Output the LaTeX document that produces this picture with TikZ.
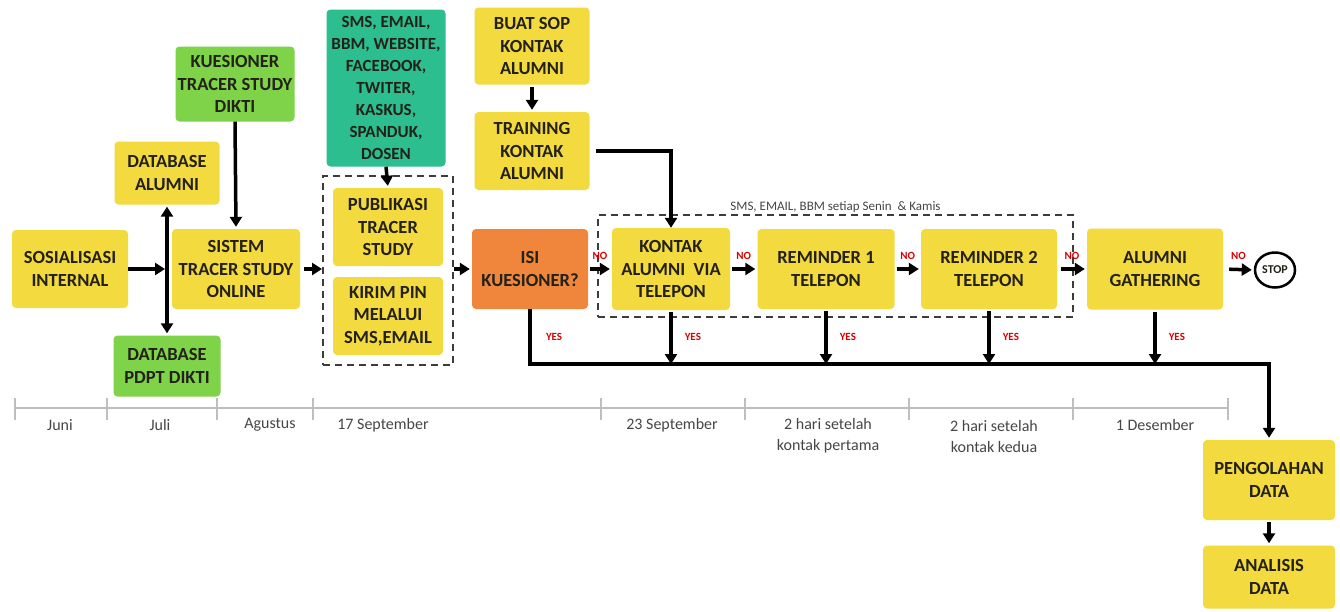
\documentclass[tikz,border=0pt]{standalone}
\usepackage{fontspec}
\setmainfont{Carlito}
\usetikzlibrary{arrows.meta,positioning,shapes.geometric}
\definecolor{boxyellow}{RGB}{243,218,62}
\definecolor{boxgreen}{RGB}{126,211,72}
\definecolor{boxteal}{RGB}{44,190,142}
\definecolor{boxorange}{RGB}{240,134,60}
\definecolor{boxtext}{RGB}{35,33,25}
\definecolor{linegray}{RGB}{190,190,190}
\definecolor{labelgray}{RGB}{70,70,70}
\definecolor{dashgray}{RGB}{60,60,60}
\begin{document}
\begin{tikzpicture}[x=1pt, y=-1pt,
    box/.style={rectangle, rounded corners=4pt, fill=boxyellow, text=boxtext, align=center, inner sep=2pt,
        font=\bfseries\fontsize{18.5}{22.5}\selectfont},
    group/.style={rectangle, draw=dashgray, line width=2pt, dash pattern=on 7pt off 5pt, inner sep=0pt},
    arr/.style={draw=black, line width=3.5pt, -{Triangle[width=12pt,length=10pt]}},
    no/.style={font=\bfseries\fontsize{11}{11}\selectfont, text=red!85!black, inner sep=0pt},
    when/.style={font=\fontsize{16}{21}\selectfont, text=labelgray, align=center, inner sep=0pt}]
    \useasboundingbox (0,0) rectangle (1340,611);
    \fill[white] (0,0) rectangle (1340,611);
    % left part
    \node[box, minimum width=116pt, minimum height=78pt] (sos) at (70,269) {SOSIALISASI\\INTERNAL};
    \node[box, minimum width=105pt, minimum height=63pt] (dbal) at (167,173) {DATABASE\\ALUMNI};
    \node[box, fill=boxgreen, minimum width=119pt, minimum height=75pt] (kues) at (235,84) {KUESIONER\\TRACER STUDY\\DIKTI};
    \node[box, minimum width=128pt, minimum height=80pt] (sis) at (236,269) {SISTEM\\TRACER STUDY\\ONLINE};
    \node[box, fill=boxgreen, minimum width=107pt, minimum height=61pt] (dbpd) at (167,366) {DATABASE\\PDPT DIKTI};
    \node[box, fill=boxteal, minimum width=119pt, minimum height=157pt, font=\bfseries\fontsize{17}{22}\selectfont] (media) at (386,88)
        {SMS, EMAIL,\\BBM, WEBSITE,\\FACEBOOK,\\TWITER,\\KASKUS,\\SPANDUK,\\DOSEN};
    \node[group, minimum width=130pt, minimum height=189pt] (grp1) at (388,270.5) {};
    \node[box, minimum width=110pt, minimum height=78pt] (pub) at (388,227) {PUBLIKASI\\TRACER\\STUDY};
    \node[box, minimum width=110pt, minimum height=78pt] (pin) at (388,316) {KIRIM PIN\\MELALUI\\SMS,EMAIL};
    % contact part
    \node[box, minimum width=115pt, minimum height=77pt] (sop) at (532,46) {BUAT SOP\\KONTAK\\ALUMNI};
    \node[box, minimum width=115pt, minimum height=78pt] (train) at (532,151) {TRAINING\\KONTAK\\ALUMNI};
    \node[box, fill=boxorange, minimum width=116pt, minimum height=80pt] (isi) at (530,269) {ISI\\KUESIONER?};
    \node[group, minimum width=475pt, minimum height=102pt] (grp2) at (835.5,266) {};
    \node[font=\fontsize{13}{13}\selectfont, text=labelgray, inner sep=1pt, above=0pt of grp2.north] (sched) {SMS, EMAIL, BBM setiap Senin~ \& Kamis};
    \node[box, minimum width=118pt, minimum height=82pt] (kontak) at (671,269) {KONTAK\\ALUMNI~ VIA\\TELEPON};
    \node[box, minimum width=137pt, minimum height=80pt] (rem1) at (826,269) {REMINDER 1\\TELEPON};
    \node[box, minimum width=136pt, minimum height=80pt] (rem2) at (989,269) {REMINDER 2\\TELEPON};
    \node[box, minimum width=136pt, minimum height=81pt] (gath) at (1155,269) {ALUMNI\\GATHERING};
    \node[ellipse, draw=black, line width=2.5pt, minimum width=40pt, minimum height=35pt, inner sep=0pt,
        font=\bfseries\fontsize{12}{12}\selectfont, text=boxtext] (stop) at (1275,270) {STOP};
    \node[box, minimum width=132pt, minimum height=80pt] (olah) at (1269,480) {PENGOLAHAN\\DATA};
    \node[box, minimum width=132pt, minimum height=63pt] (anal) at (1269,577) {ANALISIS\\DATA};
    \coordinate (bus) at (0,364);
    % connectors
    \draw[arr] (sos.east) -- ([xshift=-2pt]sos.east -| dbal.south);
    \draw[arr, {Triangle[width=12pt,length=10pt]}-{Triangle[width=12pt,length=10pt]}, shorten <=2pt, shorten >=2pt] (dbal.south) -- (dbpd.north);
    \draw[arr, shorten >=2pt] (kues.south) -- (sis.north);
    \draw[arr, shorten <=4pt] (sis.east) -- (sis.east -| grp1.west);
    \draw[arr, shorten >=2pt] (media.south) -- (pub.north);
    \draw[arr, shorten >=2pt] (grp1.east |- isi) -- (isi.west);
    \draw[arr, shorten <=2pt, shorten >=2pt] (sop.south) -- (train.north);
    \draw[arr, shorten <=6pt] (train.east) -| (kontak.north);
    \draw[arr, shorten <=2pt, shorten >=2pt] (isi.east) -- node[no, above=8pt] {NO} (kontak.west);
    \draw[arr, shorten <=2pt, shorten >=2pt] (kontak.east) -- node[no, above=8pt] {NO} (rem1.west);
    \draw[arr, shorten <=2pt, shorten >=2pt] (rem1.east) -- node[no, above=8pt] {NO} (rem2.west);
    \draw[arr, shorten <=4pt, shorten >=2pt] (rem2.east) -- node[no, above=8pt] {NO} (gath.west);
    \draw[arr, shorten <=6pt, shorten >=2pt] (gath.east) -- node[no, above=8pt] {NO} (stop.west);
    \draw[arr, line width=4pt, shorten >=2pt] (isi.south) -- node[no, right=14pt] {YES} (isi.south |- bus) -| (olah.north);
    \foreach \n in {kontak,rem1,rem2,gath}
        \draw[arr, shorten <=2pt] (\n.south) -- node[no, right=12pt] {YES} (\n.south |- bus);
    \draw[arr, shorten <=2pt, shorten >=2pt] (olah.south) -- (anal.north);
    % timeline
    \draw[linegray, line width=2pt] (15,408) -- (1228,408);
    \foreach \x in {15,107,217,313,601,745,909,1073,1228}
        \draw[linegray, line width=2pt] (\x,398) -- (\x,420);
    \foreach \x/\when in {60/Juni,160/Juli,270/Agustus,383/17 September,672/23 September,1155/1 Desember}
        \node[when] at (\x,425) {\when};
    \node[when] at (828,436) {2 hari setelah\\kontak pertama};
    \node[when] at (994,436) {2 hari setelah\\kontak kedua};
\end{tikzpicture}
\end{document}
